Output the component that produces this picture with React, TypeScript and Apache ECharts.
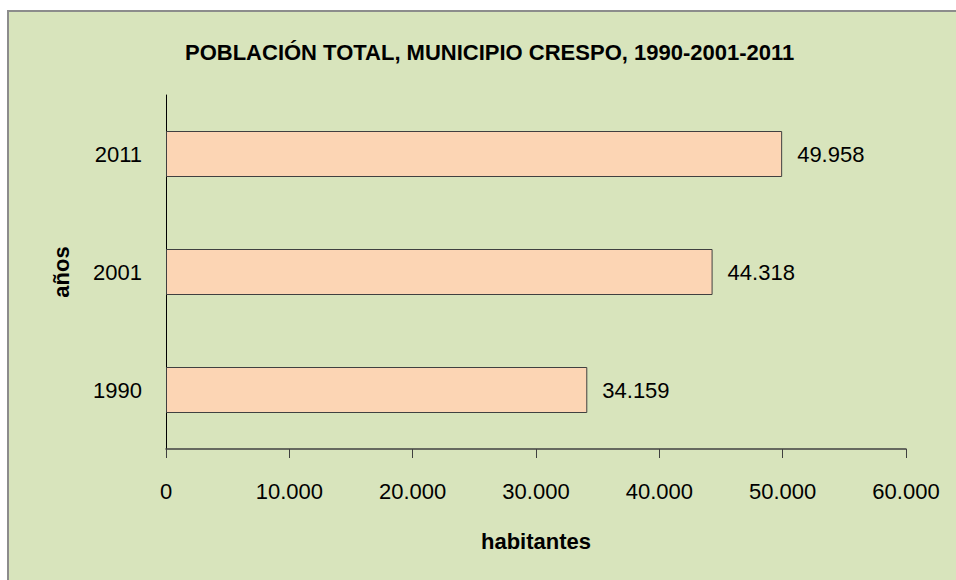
import React, { useEffect, useRef } from "react";
import * as echarts from "echarts";

const titleText = "POBLACIÓN TOTAL, MUNICIPIO CRESPO, 1990-2001-2011";
const years = ["1990", "2001", "2011"];
const population = [34159, 44318, 49958];
const xAxisName = "habitantes";
const yAxisName = "años";

const fmt = (v: number) => String(v).replace(/\B(?=(\d{3})+(?!\d))/g, ".");

const FONT = "'Liberation Sans', Arial, sans-serif";

export default function App() {
  const ref = useRef<HTMLDivElement>(null);
  useEffect(() => {
    if (!ref.current) return;
    const chart = echarts.init(ref.current, undefined, { renderer: "svg" });
    chart.setOption({
      animation: false,
      title: {
        text: titleText,
        left: 180,
        top: 36,
        textStyle: { fontFamily: FONT, fontSize: 22, fontWeight: "bold", color: "#000" },
      },
      grid: { left: 166, right: 50, top: 95, bottom: 131, containLabel: false },
      xAxis: {
        type: "value",
        min: 0,
        max: 60000,
        interval: 10000,
        name: xAxisName,
        nameLocation: "middle",
        nameGap: 81,
        nameTextStyle: { fontFamily: FONT, fontSize: 22, fontWeight: "bold", color: "#000" },
        axisLine: { show: true, lineStyle: { color: "#404040", width: 1.5 } },
        axisTick: { show: true, length: 9, lineStyle: { color: "#404040", width: 1 } },
        splitLine: { show: false },
        axisLabel: {
          margin: 31,
          fontFamily: FONT,
          fontSize: 22,
          color: "#000",
          formatter: (v: number) => fmt(v),
        },
      },
      yAxis: {
        type: "category",
        data: years,
        name: yAxisName,
        nameLocation: "middle",
        nameGap: 94,
        nameRotate: 90,
        nameTextStyle: { fontFamily: FONT, fontSize: 22, fontWeight: "bold", color: "#000" },
        axisLine: { show: true, lineStyle: { color: "#000", width: 1 } },
        axisTick: { show: false },
        splitLine: { show: false },
        axisLabel: { margin: 24, fontFamily: FONT, fontSize: 22, color: "#000" },
      },
      series: [
        {
          type: "bar",
          data: population,
          barWidth: 46,
          itemStyle: { color: "#FCD5B4", borderColor: "#404040", borderWidth: 1 },
          label: {
            show: true,
            position: "right",
            distance: 15,
            fontFamily: FONT,
            fontSize: 22,
            color: "#000",
            formatter: (p: any) => fmt(p.value),
          },
        },
      ],
    });
    return () => chart.dispose();
  }, []);

  return (
    <div
      style={{
        position: "fixed",
        left: 0,
        top: 0,
        width: 956,
        height: 580,
        background: "#fff",
        overflow: "hidden",
      }}
    >
      <div
        style={{
          position: "absolute",
          left: 7,
          top: 10,
          width: 1000,
          height: 700,
          border: "2px solid #8c8c8c",
          background: "#D8E4BC",
        }}
      />
      <div ref={ref} style={{ position: "absolute", left: 0, top: 0, width: 956, height: 580 }} />
    </div>
  );
}
